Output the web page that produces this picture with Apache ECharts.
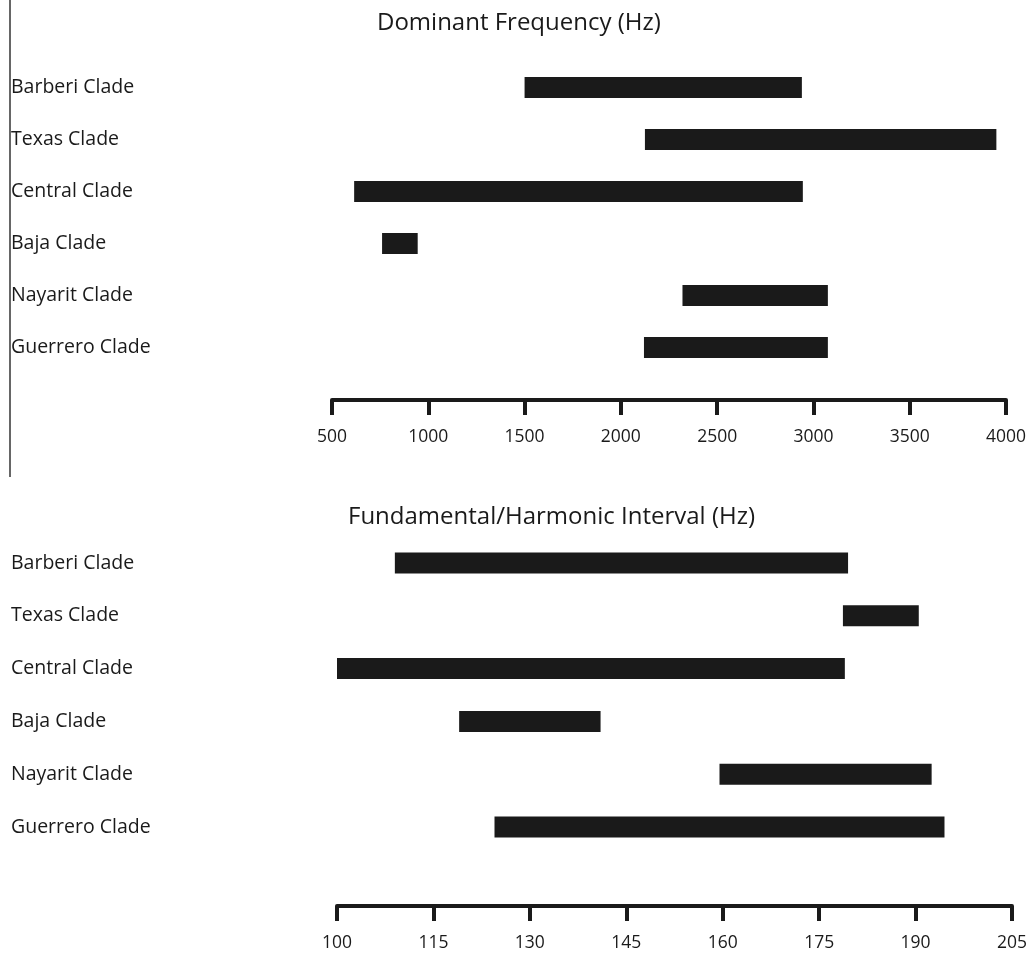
<!DOCTYPE html>
<html>
<head>
<meta charset="utf-8">
<script src="https://cdn.jsdelivr.net/npm/echarts@6/dist/echarts.min.js"></script>
<style>
html,body{margin:0;padding:0;background:#fff;}
#chart{width:1030px;height:954px;}
</style>
</head>
<body>
<div id="chart"></div>
<script>
// ---- data ----
var clades = ['Barberi Clade', 'Texas Clade', 'Central Clade', 'Baja Clade', 'Nayarit Clade', 'Guerrero Clade'];
// Dominant Frequency (Hz): range start / end per clade
var domStart = [1500, 2125, 615, 760, 2320, 2120];
var domEnd   = [2940, 3950, 2945, 945, 3075, 3075];
// Fundamental/Harmonic Interval (Hz): range start / end per clade
var fhStart = [109, 178.7, 100, 119, 159.5, 124.5];
var fhEnd   = [179.5, 190.5, 179, 141, 192.5, 194.5];
var domTicks = [500, 1000, 1500, 2000, 2500, 3000, 3500, 4000];
var fhTicks = [100, 115, 130, 145, 160, 175, 190, 205];
var titles = ['Dominant Frequency (Hz)', 'Fundamental/Harmonic Interval (Hz)'];

var FONT = '"Open Sans", "Noto Sans", sans-serif';
var INK = '#1a1a1a';
var BAR_H = 21;

function rows(starts, ends) {
  return starts.map(function (s, i) { return [s, ends[i], i]; });
}

function renderRange(params, api) {
  var a = api.coord([api.value(0), api.value(2)]);
  var b = api.coord([api.value(1), api.value(2)]);
  return {
    type: 'rect',
    shape: { x: a[0], y: a[1] - BAR_H / 2, width: b[0] - a[0], height: BAR_H },
    style: { fill: INK }
  };
}

function xAxisCfg(grid, ticks, offset) {
  return {
    type: 'value', gridIndex: grid,
    min: ticks[0], max: ticks[ticks.length - 1],
    interval: ticks[1] - ticks[0],
    offset: offset,
    axisLine: { show: true, lineStyle: { color: INK, width: 4 } },
    axisTick: { show: true, length: 15, lineStyle: { color: INK, width: 4 } },
    axisLabel: {
      color: INK, fontSize: 17.5, fontFamily: FONT, margin: 28,
      formatter: function (v) { return String(v); }
    },
    splitLine: { show: false }
  };
}

function yAxisCfg(grid, margin) {
  return {
    type: 'category', gridIndex: grid, data: clades, inverse: true,
    axisLine: { show: false }, axisTick: { show: false },
    axisLabel: { align: 'left', margin: margin, color: INK, fontSize: 19.5, fontFamily: FONT },
    splitLine: { show: false }
  };
}

var chart = echarts.init(document.getElementById('chart'), null, { renderer: 'canvas' });
chart.setOption({
  backgroundColor: '#fff',
  animation: false,
  title: [
    { text: titles[0], left: 372, top: 6, textStyle: { fontFamily: FONT, fontSize: 24, fontWeight: 'normal', color: INK } },
    { text: titles[1], left: 343, top: 500, textStyle: { fontFamily: FONT, fontSize: 24, fontWeight: 'normal', color: INK } }
  ],
  grid: [
    { left: 332, right: 24, top: 61.5, height: 312 },
    { left: 337, right: 17, top: 536.6, height: 316.8 }
  ],
  xAxis: [xAxisCfg(0, domTicks, 26.5), xAxisCfg(1, fhTicks, 52.6)],
  yAxis: [yAxisCfg(0, 321), yAxisCfg(1, 326)],
  graphic: [
    { type: 'line', shape: { x1: 10, y1: 0, x2: 10, y2: 477 }, style: { stroke: '#333', lineWidth: 1.5 } }
  ],
  series: [
    { type: 'custom', xAxisIndex: 0, yAxisIndex: 0, renderItem: renderRange, encode: { x: [0, 1], y: 2 }, data: rows(domStart, domEnd) },
    { type: 'custom', xAxisIndex: 1, yAxisIndex: 1, renderItem: renderRange, encode: { x: [0, 1], y: 2 }, data: rows(fhStart, fhEnd) }
  ]
});
</script>
</body>
</html>
